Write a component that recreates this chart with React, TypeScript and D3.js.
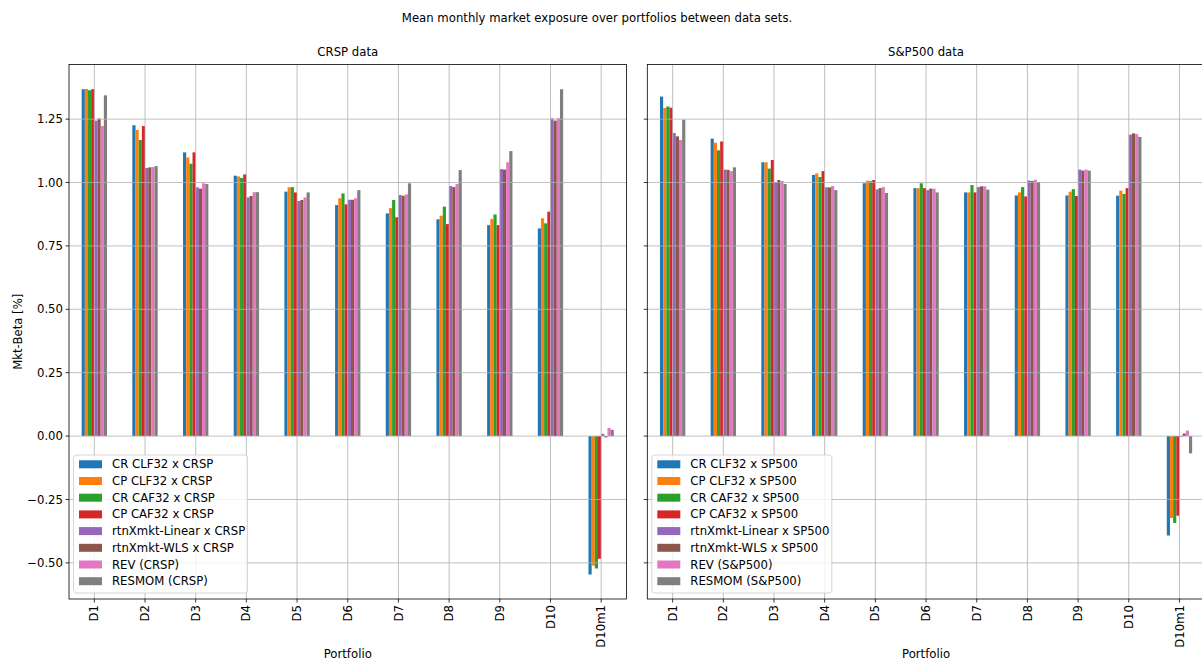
import React from "react";
import * as d3 from "d3";

const categories = ["D1", "D2", "D3", "D4", "D5", "D6", "D7", "D8", "D9", "D10", "D10m1"];

const crspSeriesNames = [
  "CR CLF32 x CRSP",
  "CP CLF32 x CRSP",
  "CR CAF32 x CRSP",
  "CP CAF32 x CRSP",
  "rtnXmkt-Linear x CRSP",
  "rtnXmkt-WLS x CRSP",
  "REV (CRSP)",
  "RESMOM (CRSP)",
];
const spSeriesNames = [
  "CR CLF32 x SP500",
  "CP CLF32 x SP500",
  "CR CAF32 x SP500",
  "CP CAF32 x SP500",
  "rtnXmkt-Linear x SP500",
  "rtnXmkt-WLS x SP500",
  "REV (S&P500)",
  "RESMOM (S&P500)",
];

// values per series, across categories D1..D10m1
const crCLF32Crsp = [1.368, 1.226, 1.119, 1.027, 0.964, 0.911, 0.878, 0.855, 0.832, 0.819, -0.546];
const cpCLF32Crsp = [1.369, 1.207, 1.099, 1.024, 0.981, 0.938, 0.899, 0.869, 0.856, 0.859, -0.511];
const crCAF32Crsp = [1.364, 1.168, 1.074, 1.018, 0.982, 0.957, 0.931, 0.905, 0.874, 0.839, -0.522];
const cpCAF32Crsp = [1.368, 1.223, 1.119, 1.032, 0.961, 0.914, 0.863, 0.836, 0.832, 0.885, -0.484];
const linearCrsp = [1.244, 1.057, 0.981, 0.941, 0.927, 0.932, 0.951, 0.986, 1.053, 1.253, 0.009];
const wlsCrsp = [1.252, 1.06, 0.976, 0.947, 0.931, 0.932, 0.948, 0.982, 1.051, 1.244, -0.005];
const revCrsp = [1.223, 1.061, 0.997, 0.962, 0.941, 0.938, 0.953, 0.994, 1.08, 1.254, 0.032];
const resmomCrsp = [1.344, 1.065, 0.994, 0.962, 0.961, 0.97, 0.997, 1.049, 1.124, 1.368, 0.025];

const crCLF32Sp = [1.339, 1.173, 1.08, 1.03, 0.997, 0.978, 0.961, 0.949, 0.949, 0.948, -0.392];
const cpCLF32Sp = [1.294, 1.157, 1.08, 1.036, 1.007, 0.978, 0.961, 0.961, 0.964, 0.968, -0.323];
const crCAF32Sp = [1.3, 1.127, 1.055, 1.022, 1.005, 0.997, 0.99, 0.982, 0.974, 0.955, -0.343];
const cpCAF32Sp = [1.295, 1.162, 1.089, 1.045, 1.01, 0.978, 0.961, 0.945, 0.947, 0.978, -0.314];
const linearSp = [1.195, 1.051, 1.002, 0.981, 0.973, 0.97, 0.982, 1.008, 1.051, 1.189, -0.003];
const wlsSp = [1.182, 1.05, 1.01, 0.981, 0.978, 0.976, 0.985, 1.006, 1.047, 1.194, 0.01];
const revSp = [1.168, 1.045, 1.006, 0.986, 0.982, 0.976, 0.985, 1.011, 1.051, 1.191, 0.022];
const resmomSp = [1.248, 1.06, 0.994, 0.97, 0.959, 0.961, 0.972, 1.002, 1.047, 1.18, -0.068];

const crspSeries = [crCLF32Crsp, cpCLF32Crsp, crCAF32Crsp, cpCAF32Crsp, linearCrsp, wlsCrsp, revCrsp, resmomCrsp];
const spSeries = [crCLF32Sp, cpCLF32Sp, crCAF32Sp, cpCAF32Sp, linearSp, wlsSp, revSp, resmomSp];

const yTicks = [-0.5, -0.25, 0, 0.25, 0.5, 0.75, 1.0, 1.25];

const colors = ["#1f77b4", "#ff7f0e", "#2ca02c", "#d62728", "#9467bd", "#8c564b", "#e377c2", "#7f7f7f"];

const FONT = "DejaVu Sans, sans-serif";
const FS = 11.7;

const W = 1202;
const H = 662;
const top = 64.5;
const bottom = 599;
const panelW = 557.5;

const yScale = d3.scaleLinear().domain([-0.6425, 1.4655]).range([bottom, top]);
const fmt = d3.format(".2f");

function Panel({ x0, title, series, names, showYLabels, legendW }: any) {
  const xScale = d3.scaleLinear().domain([-0.5, categories.length - 0.5]).range([x0, x0 + panelW]);
  const groupW = 0.5;
  const bw = groupW / series.length;
  const legX = x0 + 4.5;
  const legY = 455;
  const rowH = 16.7;
  return (
    <g>
      {/* bars */}
      {series.map((vals: number[], s: number) =>
        vals.map((v, i) => {
          const xl = xScale(i - groupW / 2 + s * bw);
          const xr = xScale(i - groupW / 2 + (s + 1) * bw);
          const y0 = yScale(0);
          const y1 = yScale(v);
          return (
            <rect
              key={`${s}-${i}`}
              x={xl}
              width={xr - xl}
              y={Math.min(y0, y1)}
              height={Math.abs(y1 - y0)}
              fill={colors[s]}
            />
          );
        })
      )}
      {/* grid */}
      {categories.map((c, i) => (
        <line key={"gx" + c} x1={xScale(i)} x2={xScale(i)} y1={top} y2={bottom} stroke="#b0b0b0" strokeWidth={0.8} />
      ))}
      {yTicks.map((t) => (
        <line key={"gy" + t} x1={x0} x2={x0 + panelW} y1={yScale(t)} y2={yScale(t)} stroke="#b0b0b0" strokeWidth={0.8} />
      ))}
      {/* spines */}
      <rect x={x0} y={top} width={panelW} height={bottom - top} fill="none" stroke="#000" strokeWidth={0.8} />
      {/* y ticks */}
      {yTicks.map((t) => (
        <g key={"yt" + t}>
          <line x1={x0 - 3.5} x2={x0} y1={yScale(t)} y2={yScale(t)} stroke="#000" strokeWidth={0.8} />
          {showYLabels && (
            <text x={x0 - 6} y={yScale(t)} dy="0.35em" textAnchor="end" fontFamily={FONT} fontSize={FS} fill="#000">
              {fmt(t)}
            </text>
          )}
        </g>
      ))}
      {/* x ticks */}
      {categories.map((c, i) => (
        <g key={"xt" + c}>
          <line x1={xScale(i)} x2={xScale(i)} y1={bottom} y2={bottom + 3.5} stroke="#000" strokeWidth={0.8} />
          <text
            transform={`translate(${xScale(i)},${bottom + 6}) rotate(-90)`}
            textAnchor="end"
            dy="0.35em"
            fontFamily={FONT}
            fontSize={FS}
            fill="#000"
          >
            {c}
          </text>
        </g>
      ))}
      {/* title */}
      <text x={x0 + panelW / 2} y={56} textAnchor="middle" fontFamily={FONT} fontSize={FS} fill="#000">
        {title}
      </text>
      {/* x label */}
      <text x={x0 + panelW / 2} y={658} textAnchor="middle" fontFamily={FONT} fontSize={FS} fill="#000">
        Portfolio
      </text>
      {/* legend */}
      <rect
        x={legX}
        y={legY}
        width={legendW}
        height={138}
        rx={3}
        fill="#fff"
        fillOpacity={0.8}
        stroke="#cccccc"
        strokeWidth={0.8}
      />
      {names.map((n: string, s: number) => {
        const cy = legY + 9.3 + s * rowH;
        return (
          <g key={"lg" + n}>
            <rect x={legX + 5.5} y={cy - 4} width={23} height={8} fill={colors[s]} />
            <text x={legX + 38.5} y={cy} dy="0.35em" fontFamily={FONT} fontSize={FS} fill="#000">
              {n}
            </text>
          </g>
        );
      })}
    </g>
  );
}

export default function App() {
  return (
    <div style={{ position: "fixed", left: 0, top: 0 }}>
      <svg width={W} height={H} viewBox={`0 0 ${W} ${H}`} style={{ display: "block", background: "#fff" }}>
        <rect x={0} y={0} width={W} height={H} fill="#fff" />
        <text x={597} y={22} textAnchor="middle" fontFamily={FONT} fontSize={FS} fill="#000">
          Mean monthly market exposure over portfolios between data sets.
        </text>
        <text
          transform={`translate(22,${(top + bottom) / 2}) rotate(-90)`}
          textAnchor="middle"
          fontFamily={FONT}
          fontSize={FS}
          fill="#000"
        >
          Mkt-Beta [%]
        </text>
        <Panel x0={69} title="CRSP data" series={crspSeries} names={crspSeriesNames} showYLabels={true} legendW={174} />
        <Panel x0={647.3} title="S&P500 data" series={spSeries} names={spSeriesNames} showYLabels={false} legendW={180} />
      </svg>
    </div>
  );
}
